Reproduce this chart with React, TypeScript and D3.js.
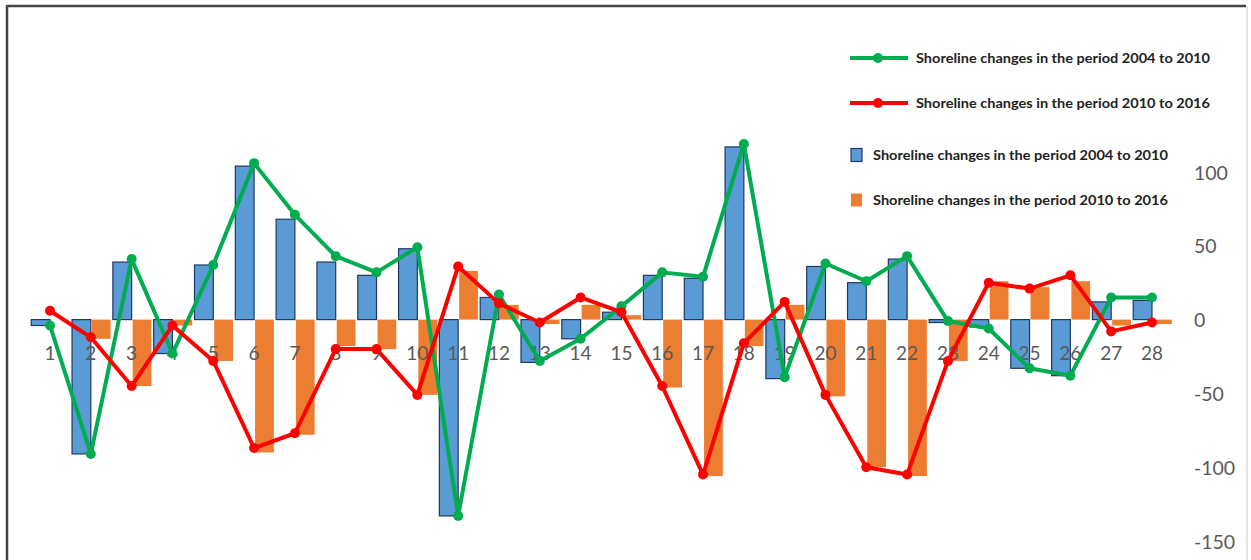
import React from 'react';
import * as d3 from 'd3';

// profile numbers along the coast
const profiles = d3.range(1, 29).map(String);

// bars
const bars0410 = [-4, -91, 39, -23, 37, 104, 68, 39, 30, 48, -133, 15, -29, -13, 5, 30, 28, 117, -40, 36, 25, 41, -2, -5, -33, -38, 12, 13];
const bars1016 = [0, -13, -45, -4, -28, -90, -78, -18, -20, -51, 33, 10, -3, 10, 3, -46, -106, -18, 10, -52, -100, -106, -28, 26, 22, 26, -4, -3];

// lines
const line0410 = [-4, -91, 41, -23, 37, 106, 71, 43, 32, 49, -133, 17, -28, -13, 9, 32, 29, 119, -39, 38, 26, 43, -1, -6, -33, -38, 15, 15];
const line1016 = [6, -12, -45, -4, -28, -87, -77, -20, -20, -51, 36, 11, -2, 15, 5, -45, -105, -16, 12, -51, -100, -105, -28, 25, 21, 30, -8, -2];

const yTicks = [100, 50, 0, -50, -100, -150];

const legendLines = [
  { label: 'Shoreline changes in the period 2004 to 2010', color: '#00AC50' },
  { label: 'Shoreline changes in the period 2010 to 2016', color: '#FF0000' },
];
const legendBars = [
  { label: 'Shoreline changes in the period 2004 to 2010', color: '#5B9BD5', stroke: '#203864' },
  { label: 'Shoreline changes in the period 2010 to 2016', color: '#ED7D31', stroke: 'none' },
];

const W = 1251;
const H = 560;

export default function App() {
  const x = d3.scaleBand<string>().domain(profiles).range([29.6, 1172.4]).padding(0);
  const y = d3.scaleLinear().domain([-150, 100]).range([541, 172]);
  const step = x.bandwidth();
  const bw = step * 0.46;
  const cx = (p: string) => (x(p) as number) + step / 2;

  const line = d3
    .line<number>()
    .x((_, i) => cx(profiles[i]))
    .y((v) => y(v));

  const font = 'Lato, "Open Sans", sans-serif';

  return (
    <svg width={W} height={H} style={{ position: 'absolute', left: 0, top: 0, background: '#fff' }}>
      {/* frame */}
      <line x1={7} y1={6} x2={1246} y2={6} stroke="#444" strokeWidth={2.5} />
      <line x1={7} y1={5} x2={7} y2={H} stroke="#444" strokeWidth={2.5} />
      <line x1={1247} y1={6} x2={1247} y2={H} stroke="#ccc" strokeWidth={1} />

      {/* bars 2004-2010 */}
      {bars0410.map((v, i) => (
        <rect
          key={'b' + i}
          x={cx(profiles[i]) - bw}
          y={Math.min(y(v), y(0))}
          width={bw}
          height={Math.abs(y(v) - y(0))}
          fill="#5B9BD5"
          stroke="#203864"
          strokeWidth={1.2}
        />
      ))}
      {/* bars 2010-2016 */}
      {bars1016.map((v, i) => (
        <rect
          key={'o' + i}
          x={cx(profiles[i]) + 1}
          y={Math.min(y(v), y(0))}
          width={bw}
          height={Math.abs(y(v) - y(0))}
          fill="#ED7D31"
        />
      ))}

      {/* category labels */}
      {profiles.map((p) => (
        <text key={'x' + p} x={cx(p)} y={352} textAnchor="middle" dominantBaseline="central" fontFamily={font} fontSize={19} fill="#595959">
          {p}
        </text>
      ))}

      {/* lines */}
      {[
        { data: line0410, color: '#00AC50' },
        { data: line1016, color: '#FF0000' },
      ].map((s, k) => (
        <g key={'l' + k}>
          <path d={line(s.data) || ''} fill="none" stroke={s.color} strokeWidth={4} strokeLinejoin="round" />
          {s.data.map((v, i) => (
            <circle key={i} cx={cx(profiles[i])} cy={y(v)} r={5} fill={s.color} />
          ))}
        </g>
      ))}

      {/* right axis labels */}
      {yTicks.map((t) => (
        <text key={'y' + t} x={1194} y={y(t)} dominantBaseline="central" fontFamily={font} fontSize={19.5} fill="#595959">
          {t}
        </text>
      ))}

      {/* legend */}
      {legendLines.map((d, i) => (
        <g key={'ll' + i} transform={`translate(0, ${58 + i * 45})`}>
          <line x1={850} x2={908} y1={0} y2={0} stroke={d.color} strokeWidth={4} />
          <circle cx={878} cy={0} r={5} fill={d.color} />
          <text x={916} y={0} dominantBaseline="central" fontFamily={font} fontWeight="bold" fontSize={12.5} fill="#222" textLength={294} lengthAdjust="spacingAndGlyphs">
            {d.label}
          </text>
        </g>
      ))}
      {legendBars.map((d, i) => (
        <g key={'lb' + i} transform={`translate(0, ${155 + i * 45})`}>
          <rect x={851} y={-6.5} width={11} height={13} fill={d.color} stroke={d.stroke} strokeWidth={1.2} />
          <text x={873} y={0} dominantBaseline="central" fontFamily={font} fontWeight="bold" fontSize={12.5} fill="#222" textLength={295} lengthAdjust="spacingAndGlyphs">
            {d.label}
          </text>
        </g>
      ))}
    </svg>
  );
}
